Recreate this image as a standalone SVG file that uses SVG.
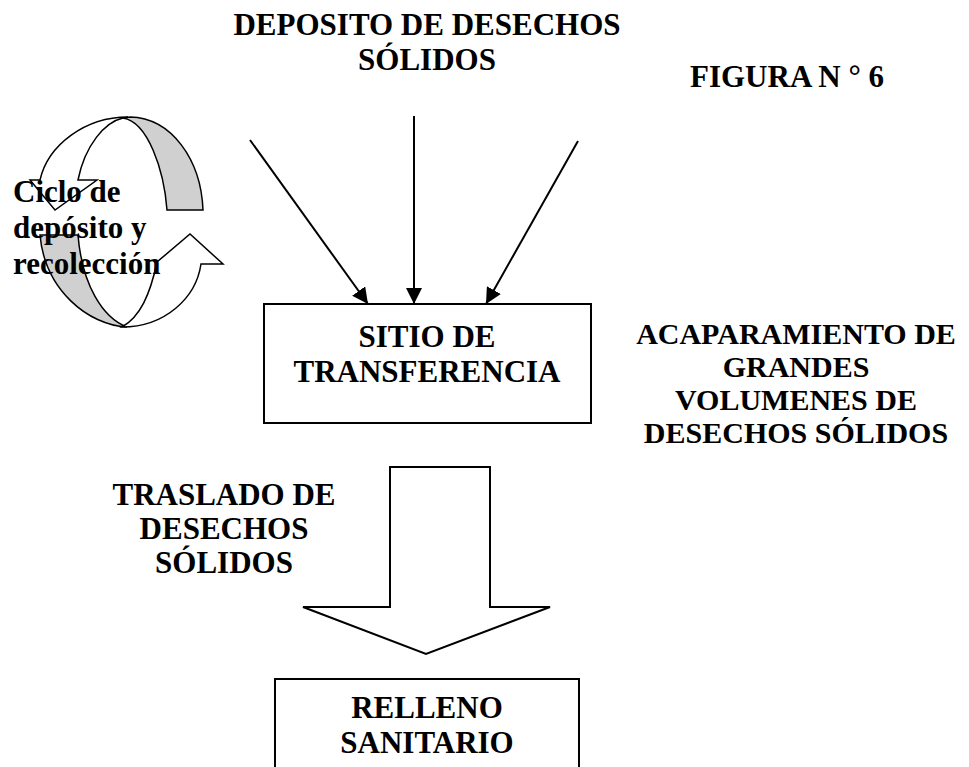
<svg xmlns="http://www.w3.org/2000/svg" width="969" height="767" viewBox="0 0 969 767">
<style>
  text { font-family: "Liberation Serif", "Times New Roman", serif; font-weight: bold; font-size: 31px; fill: #000; }
  .c { text-anchor: middle; }
  .s30 { font-size: 30px; }
  .box { fill: #fff; stroke: #000; stroke-width: 2; }
  .ln { stroke: #000; stroke-width: 2; fill: none; }
  .w { fill: #fff; stroke: #000; stroke-width: 1.5; stroke-linejoin: miter; }
  .g { fill: #d0d0d0; stroke: #000; stroke-width: 1.5; }
</style>
<defs>
  <marker id="ah" viewBox="0 0 16 16" refX="16" refY="8" markerWidth="16" markerHeight="16" markerUnits="userSpaceOnUse" orient="auto">
    <path d="M0,0 L16,8 L0,16 Z" fill="#000"/>
  </marker>
</defs>
<rect width="969" height="767" fill="#fff"/>

<g id="title">
  <text class="c" x="427" y="35">DEPOSITO DE DESECHOS</text>
  <text class="c" x="427" y="70">SÓLIDOS</text>
</g>
<g id="figura">
  <text x="690" y="87">FIGURA N ° 6</text>
</g>

<g id="cycle">
  <path class="g" d="M123,118 C148,122 164,170 167,210 L203,210 C201,160 172,118 130,117 Z"/>
  <path class="w" d="M128,117 C85,117 48,145 40,180 L30,180 L55,210 L97,180 L78,180 C85,145 105,122 123,118 Z"/>
  <path class="g" d="M40,235 L78,235 C82,285 103,318 127,327 C88,325 45,290 40,235 Z"/>
  <path class="w" d="M122,327 C165,327 196,298 201,264 L223,264 L190,234 L157,262 C150,295 140,317 122,327 Z"/>
  <text x="13" y="202">Ciclo de</text>
  <text x="13" y="238">depósito y</text>
  <text x="13" y="274">recolección</text>
</g>

<g id="connectors">
  <line class="ln" x1="250" y1="140" x2="368" y2="304" marker-end="url(#ah)"/>
  <line class="ln" x1="414" y1="116" x2="414" y2="304" marker-end="url(#ah)"/>
  <line class="ln" x1="578" y1="141" x2="486" y2="304" marker-end="url(#ah)"/>
  <path class="w" d="M390,467 L490,467 L490,607 L550,607 L426,654 L303,607 L390,607 Z" style="stroke-width:2"/>
</g>

<g id="sitio">
  <rect class="box" x="264" y="304" width="327" height="119"/>
  <text class="c" x="427" y="347">SITIO DE</text>
  <text class="c" x="427" y="382">TRANSFERENCIA</text>
</g>

<g id="acaparamiento">
  <text class="c s30" x="796" y="344">ACAPARAMIENTO DE</text>
  <text class="c s30" x="796" y="377">GRANDES</text>
  <text class="c s30" x="796" y="410">VOLUMENES DE</text>
  <text class="c s30" x="796" y="443">DESECHOS SÓLIDOS</text>
</g>

<g id="traslado">
  <text class="c" x="224" y="505">TRASLADO DE</text>
  <text class="c" x="224" y="539">DESECHOS</text>
  <text class="c" x="224" y="573">SÓLIDOS</text>
</g>

<g id="relleno">
  <rect class="box" x="275" y="679" width="304" height="100"/>
  <text class="c" x="427" y="718">RELLENO</text>
  <text class="c" x="427" y="753">SANITARIO</text>
</g>
</svg>
